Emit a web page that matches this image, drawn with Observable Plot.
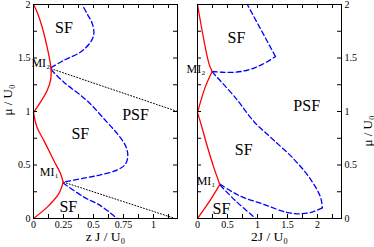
<!DOCTYPE html>
<html><head><meta charset="utf-8">
<script src="https://cdn.jsdelivr.net/npm/d3@7"></script>
<script src="https://cdn.jsdelivr.net/npm/@observablehq/plot@0.6"></script>
<style>
body{margin:0;background:#fff;}
#wrap{position:relative;width:374px;height:247px;overflow:hidden;background:#fff;}
</style></head><body><div id="wrap"></div>
<script>
// ---------- Left panel (z J / U0) ----------
const leftXTicks = [0, 0.25, 0.5, 0.75, 1];
const leftXMinor = [0.125, 0.25, 0.375, 0.5, 0.625, 0.75, 0.875, 1, 1.125];
const yTicks = [0, 0.5, 1, 1.5, 2];
const yMinor = [0.25, 0.5, 0.75, 1, 1.25, 1.5, 1.75];

const leftRed = [
  [[0,0],[0.114,0.106],[0.21,0.23],[0.247,0.34]],
  [[0.247,0.34],[0.225,0.42],[0.17,0.54],[0.086,0.73],[0.03,0.85],[0,0.99]],
  [[0,0.99],[0.058,1.087],[0.114,1.196],[0.142,1.29],[0.147,1.395]],
  [[0.147,1.395],[0.136,1.477],[0.114,1.60],[0.072,1.79],[0.03,1.93],[0,2]]
];
const leftBlue = [
  [[0.147,1.41],[0.25,1.477],[0.39,1.554],[0.475,1.648],[0.503,1.726],[0.49,1.82],[0.447,1.913],[0.405,2]],
  [[0.147,1.39],[0.253,1.274],[0.447,1.10],[0.60,0.916],[0.70,0.79],[0.767,0.68],[0.786,0.589],[0.767,0.51],[0.70,0.455],[0.558,0.408],[0.42,0.377],[0.25,0.34]],
  [[0.25,0.33],[0.42,0.2],[0.558,0.12],[0.697,0]]
];
const leftDotted = [
  [[0.147,1.40],[1.2,1.0]],
  [[0.25,0.34],[1.18,0]]
];
const leftRegions = [
  {label:"SF", x:0.254, y:1.78},
  {label:"PSF", x:0.85, y:0.97},
  {label:"SF", x:0.39, y:0.79},
  {label:"SF", x:0.29, y:0.11}
];
const leftMI = [
  {label:"MI₂", x:0.14, y:1.45},
  {label:"MI₁", x:0.21, y:0.43}
];

// ---------- Right panel (2J / U0) ----------
const rightXTicks = [0, 0.5, 1, 1.5, 2];
const rightXMinor = [0.25, 0.5, 0.75, 1, 1.25, 1.5, 1.75, 2, 2.25];
const rightRed = [
  [[0,0],[0.133,0.106],[0.245,0.2],[0.328,0.277],[0.372,0.318]],
  [[0.372,0.318],[0.27,0.48],[0.16,0.68],[0.06,0.88],[0,0.99]],
  [[0,0.99],[0.13,1.23],[0.245,1.374]],
  [[0.245,1.374],[0.19,1.45],[0,2]]
];
const rightBlue = [
  [[0.245,1.374],[0.41,1.367],[0.63,1.367],[0.855,1.39],[1.08,1.44],[1.3,1.514]],
  [[1.3,1.514],[0.83,2]],
  [[0.245,1.37],[0.63,1.13],[0.95,0.9],[1.245,0.745],[1.58,0.57],[1.86,0.386],[2.05,0.2],[2.08,0.1]],
  [[2.08,0.1],[1.91,0.06],[1.69,0.044],[1.47,0.06],[1.08,0.137],[0.69,0.215],[0.38,0.32]],
  [[0.38,0.31],[0.63,0.168],[0.97,0]]
];
const rightRegions = [
  {label:"SF", x:0.65, y:1.69},
  {label:"PSF", x:1.82, y:1.05},
  {label:"SF", x:0.77, y:0.64},
  {label:"SF", x:0.4, y:0.09}
];
const rightMI = [
  {label:"MI₂", x:0.133, y:1.40},
  {label:"MI₁", x:0.30, y:0.35}
];

const FONT = "'Liberation Serif','Times New Roman',serif";
const rows = segs => segs.flatMap((s, i) => s.map(([x, y]) => ({x, y, seg: i})));

function panel(o) {
  const H = 247, mt = 4, mb = 29;
  const fw = o.width - o.ml - o.mr, fh = H - mt - mb;
  return Plot.plot({
    width: o.width, height: H,
    marginLeft: o.ml, marginRight: o.mr, marginTop: mt, marginBottom: mb,
    x: {domain: o.xDomain},
    y: {domain: [0, 2]},
    style: {fontFamily: FONT, fontSize: "10px", background: "white", color: "black", overflow: "visible"},
    marks: [
      Plot.line(rows(o.dotted || []), {x: "x", y: "y", z: "seg", stroke: "black", strokeWidth: 1, strokeDasharray: "1,2"}),
      Plot.line(rows(o.blue), {x: "x", y: "y", z: "seg", stroke: "#0000ff", strokeWidth: 1.3, strokeDasharray: "5,3", curve: "catmull-rom"}),
      Plot.line(rows(o.red), {x: "x", y: "y", z: "seg", stroke: "#ff0000", strokeWidth: 1.3, curve: "catmull-rom"}),
      Plot.ruleX(o.xMinor, {x: d => d, insetTop: fh - 4, stroke: "black"}),
      Plot.ruleX(o.xMinor, {x: d => d, insetBottom: fh - 4, stroke: "black"}),
      Plot.ruleY(yMinor, {y: d => d, insetRight: fw - 4, stroke: "black"}),
      Plot.ruleY(yMinor, {y: d => d, insetLeft: fw - 4, stroke: "black"}),
      Plot.frame({stroke: "black"}),
      Plot.axisX(o.xTicks, {anchor: "bottom", tickSize: 0, tickPadding: 2, tickFormat: d => String(d), label: null}),
      Plot.axisY(yTicks, {anchor: o.yAnchor, tickSize: 0, tickPadding: 3, tickFormat: d => String(d), label: null}),
      Plot.text([o.xTitle], {frameAnchor: "bottom", text: d => d, dy: 22, fontSize: 13.5}),
      Plot.text(["μ / U₀"], {frameAnchor: o.yAnchor, text: d => d, rotate: -90, dx: o.yAnchor === "left" ? -26 : 26, dy: 4, fontSize: 13}),
      Plot.text(o.regions, {x: "x", y: "y", text: "label", fontSize: 16}),
      Plot.text(o.mi, {x: "x", y: "y", text: "label", textAnchor: "end", fontSize: 12})
    ]
  });
}

const wrap = document.getElementById("wrap");
const left = panel({width: 185, ml: 33, mr: 8, xDomain: [0, 1.2], xTicks: leftXTicks, xMinor: leftXMinor,
  yAnchor: "left", xTitle: "z J / U₀", red: leftRed, blue: leftBlue, dotted: leftDotted, regions: leftRegions, mi: leftMI});
const right = panel({width: 189, ml: 12, mr: 33, xDomain: [0, 2.4], xTicks: rightXTicks, xMinor: rightXMinor,
  yAnchor: "right", xTitle: "2J / U₀", red: rightRed, blue: rightBlue, regions: rightRegions, mi: rightMI});
left.style.position = "absolute"; left.style.left = "0px"; left.style.top = "0px";
right.style.position = "absolute"; right.style.left = "185px"; right.style.top = "0px";
wrap.appendChild(left);
wrap.appendChild(right);
</script></body></html>
